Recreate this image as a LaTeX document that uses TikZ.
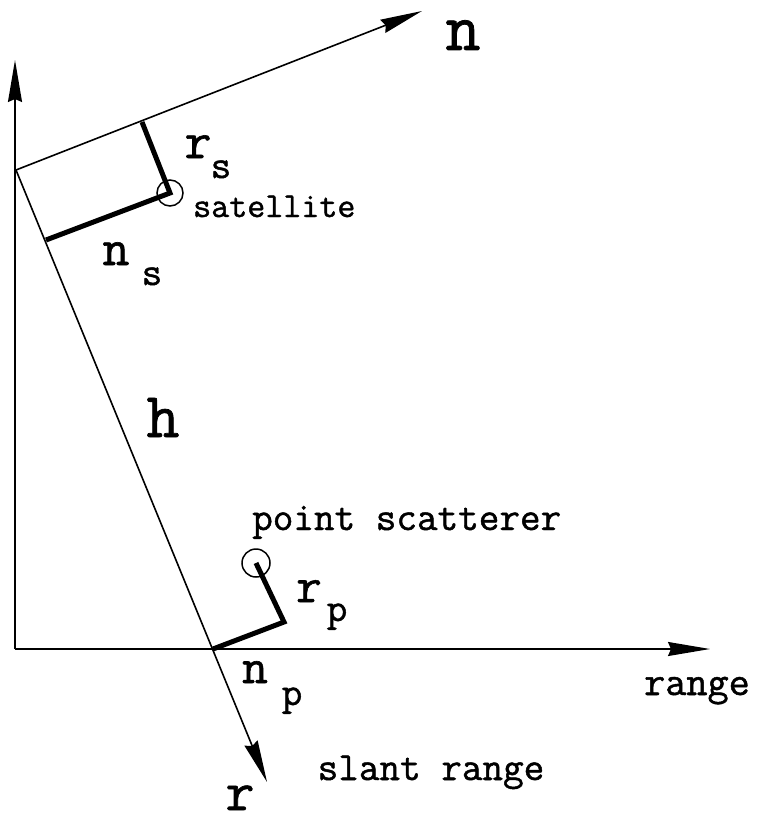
\documentclass[tikz,border=0pt]{standalone}
\usepackage{fontspec}
\newfontfamily\plotfont{Latin Modern Mono}[FakeBold=1.2]
\usetikzlibrary{arrows.meta}
\newcommand{\lblsize}[1]{\fontsize{#1}{#1}\selectfont}
\tikzset{
  lab/.style={inner sep=0pt, anchor=base},
  thinline/.style={line width=1.6pt},
  thickline/.style={line width=5pt, line join=miter},
  axisarrow/.style={thinline, -{Stealth[length=42pt,width=14pt,inset=3pt]}},
  marker/.style={circle, draw, line width=1.5pt, inner sep=0pt, minimum size=#1}
}
\begin{document}
\begin{tikzpicture}[x=1pt,y=-1pt]
\useasboundingbox (0,0) rectangle (757,816);
% key points
\coordinate (O) at (15,649);
\coordinate (Ytip) at (15,60);
\coordinate (Xtip) at (710,649);
\coordinate (A) at (16,170);
\coordinate (Ntip) at (422,11);
\coordinate (Rtip) at (267,782);
\coordinate (P) at (213,649);
\coordinate (B) at (142,122);
\coordinate (C) at (46,240);
\coordinate (Q) at (284,622);
% axes
\draw[axisarrow] (O) -- (Ytip);
\draw[axisarrow] (O) -- (Xtip);
\draw[axisarrow] (A) -- (Ntip);
\draw[axisarrow] (A) -- (Rtip);
% satellite
\node[marker=26pt] (sat) at (170,193) {};
\draw[thickline] (B) -- (sat.center) -- (C);
% point scatterer
\node[marker=28pt] (ps) at (256,563) {};
\draw[thickline] (ps.center) -- (Q) -- (P);
% labels
\node[lab, font=\plotfont\lblsize{68}, text height=32pt, text depth=0pt] (nlab) at (463,50) {n};
\node[lab, font=\plotfont\lblsize{52}] (rslab) at (198,158) {r};
\node[lab, font=\plotfont\lblsize{40}] (rssub) at (221,178) {s};
\node[lab, font=\plotfont\lblsize{35}, anchor=base west] (satlab) at (193,217) {satellite};
\node[lab, font=\plotfont\lblsize{52}] (nslab) at (116,265) {n};
\node[lab, font=\plotfont\lblsize{40}] (nssub) at (152,285) {s};
\node[lab, font=\plotfont\lblsize{64}] (hlab) at (163,437) {h};
\node[lab, font=\plotfont\lblsize{40}, anchor=base west] (pslab) at (252,530) {point scatterer};
\node[lab, font=\plotfont\lblsize{50}] (rplab) at (309,602) {r};
\node[lab, font=\plotfont\lblsize{40}] (rpsub) at (337,621) {p};
\node[lab, font=\plotfont\lblsize{50}] (nplab) at (255,683) {n};
\node[lab, font=\plotfont\lblsize{40}] (npsub) at (292,705) {p};
\node[lab, font=\plotfont\lblsize{41}] (rangelab) at (697,695) {range};
\node[lab, font=\plotfont\lblsize{40}] (slantlab) at (431,780) {slant range};
\node[lab, font=\plotfont\lblsize{56}, text height=26pt, text depth=0pt] (rlab) at (240,810) {r};
\end{tikzpicture}
\end{document}
